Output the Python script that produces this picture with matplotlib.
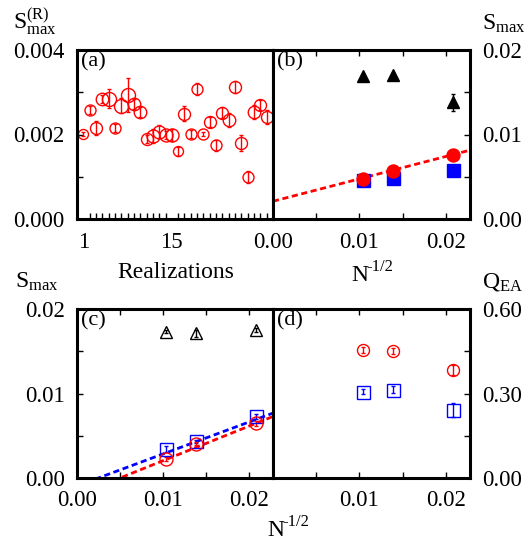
import numpy as np
import matplotlib
matplotlib.use("Agg")
import matplotlib.pyplot as plt
from matplotlib.ticker import FixedLocator, FixedFormatter

plt.rcParams['font.family'] = ['Liberation Serif', 'DejaVu Serif']
plt.rcParams['mathtext.fontset'] = 'custom'
plt.rcParams['mathtext.rm'] = 'Liberation Serif'
plt.rcParams['mathtext.it'] = 'Liberation Serif:italic'
plt.rcParams['font.size'] = 16

# ---------------- data ----------------
realizations = list(range(1, 31))
s_real = [0.00201, 0.00258, 0.00215, 0.00284, 0.00285, 0.00215, 0.00268, 0.00293,
          0.00272, 0.00253, 0.00189, 0.00196, 0.00207, 0.00199, 0.00199, 0.00160,
          0.00249, 0.00201, 0.00307, 0.00201, 0.00230, 0.00174, 0.00252, 0.00234,
          0.00313, 0.00179, 0.00100, 0.00254, 0.00270, 0.00241]
s_real_err = [0.00005, 0.00010, 0.00016, 0.00010, 0.00022, 0.00010, 0.00018, 0.00040,
              0.00012, 0.00012, 0.00010, 0.00017, 0.00015, 0.00010, 0.00015, 0.00010,
              0.00018, 0.00010, 0.00014, 0.00005, 0.00012, 0.00012, 0.00012, 0.00017,
              0.00014, 0.00019, 0.00014, 0.00017, 0.00012, 0.00017]
s_real_size = [10, 11, 12, 12.5, 14, 11, 14, 14, 12.5, 12.5, 12, 13, 13, 13, 13, 10,
               12, 11, 11, 11, 12, 11, 12, 12.5, 12, 12, 11, 12.5, 12, 12]

n_inv = [0.0104, 0.0139, 0.0208]

tri_b = [0.0169, 0.0171, 0.0138]
tri_b_err = [0.0002, 0.0002, 0.0010]
circ_b = [0.00474, 0.00565, 0.00763]
sq_b = [0.00466, 0.00486, 0.00577]
fit_b = (0.0021, 0.265)          # intercept, slope

tri_c = [0.01732, 0.01713, 0.01752]
tri_c_err = [0.0002, 0.0004, 0.0002]
sq_c = [0.00343, 0.00433, 0.00728]
sq_c_err = [0.0003, 0.0002, 0.0003]
circ_c = [0.00224, 0.00406, 0.00650]
circ_c_err = [0.0002, 0.0002, 0.0003]
fit_c_blue = (0.00248, 0.378)    # x-intercept, slope
fit_c_red = (0.0050, 0.409)

circ_d = [0.455, 0.451, 0.384]
circ_d_err = [0.010, 0.010, 0.018]
sq_d = [0.307, 0.313, 0.242]
sq_d_err = [0.008, 0.012, 0.025]

# ---------------- figure ----------------
W, H = 529, 546
fig = plt.figure(figsize=(W / 100, H / 100), dpi=100)

def box(x0, y0, x1, y1):
    return [x0 / W, 1 - y1 / H, (x1 - x0) / W, (y1 - y0) / H]

ax_a = fig.add_axes(box(77, 50, 273, 219))
ax_b = fig.add_axes(box(273, 50, 470, 219))
ax_c = fig.add_axes(box(77, 309, 273, 478))
ax_d = fig.add_axes(box(273, 309, 470, 478))

RED = '#ff0000'
BLUE = '#0000ff'
PX = 0.72  # points per pixel
DASH = (0, (2.2, 1.3))

for ax in (ax_a, ax_b, ax_c, ax_d):
    for sp in ax.spines.values():
        sp.set_linewidth(2.2)
    ax.tick_params(which='both', direction='in', length=4, width=1, pad=9,
                   labelsize=16.5)

# ---- (a) ----
for x, y, e, s in zip(realizations, s_real, s_real_err, s_real_size):
    ax_a.errorbar([x], [y], yerr=[e], fmt='o', mfc='none', mec=RED, ms=s * PX,
                  mew=1.0, ecolor=RED, elinewidth=1.0, capsize=1.5, capthick=1.0)
ax_a.set_xlim(0, 31)
ax_a.set_ylim(0, 0.004)
ax_a.xaxis.set_major_locator(FixedLocator([1, 15]))
ax_a.xaxis.set_major_formatter(FixedFormatter(['1', '15']))
ax_a.xaxis.set_minor_locator(FixedLocator(realizations))
ax_a.yaxis.set_major_locator(FixedLocator([0, 0.002, 0.004]))
ax_a.yaxis.set_major_formatter(FixedFormatter(['0.000', '0.002', '0.004']))
ax_a.yaxis.set_minor_locator(FixedLocator([0.001, 0.003]))
ax_a.tick_params(which='both', top=False, right=False)
ax_a.tick_params(axis='x', which='major', length=0)
ax_a.text(0.02, 0.985, '(a)', transform=ax_a.transAxes, ha='left', va='top')

xlim_n = (0, 0.0228)
xs_line = np.array(xlim_n)

def n_xaxis(ax, labels):
    ax.set_xlim(*xlim_n)
    ax.xaxis.set_major_locator(FixedLocator([0, 0.01, 0.02]))
    ax.xaxis.set_major_formatter(FixedFormatter(labels))
    ax.xaxis.set_minor_locator(FixedLocator([0.005, 0.015]))
    ax.tick_params(axis='x', which='both', top=True, bottom=True)

# ---- (b) ----
ax_b.errorbar(n_inv, tri_b, yerr=tri_b_err, fmt='^', color='k', ms=12 * PX,
              elinewidth=1.0, capsize=1.5, zorder=3)
ax_b.plot(n_inv, sq_b, 's', color=BLUE, ms=13 * PX, zorder=3)
ax_b.plot(xs_line, fit_b[0] + fit_b[1] * xs_line, color=RED, lw=2.0, ls=DASH,
          zorder=2)
ax_b.plot(n_inv, circ_b, 'o', color=RED, ms=13 * PX, zorder=4)
n_xaxis(ax_b, ['0.00', '0.01', '0.02'])
ax_b.set_ylim(0, 0.02)
ax_b.yaxis.tick_right()
ax_b.yaxis.set_major_locator(FixedLocator([0, 0.01, 0.02]))
ax_b.yaxis.set_major_formatter(FixedFormatter(['0.00', '0.01', '0.02']))
ax_b.yaxis.set_minor_locator(FixedLocator([0.005, 0.015]))
ax_b.tick_params(axis='y', which='both', left=False, right=True,
                 labelleft=False, labelright=True)
ax_b.text(0.02, 0.985, '(b)', transform=ax_b.transAxes, ha='left', va='top')

# ---- (c) ----
ax_c.errorbar(n_inv, tri_c, yerr=tri_c_err, fmt='^', mfc='none', mec='k',
              ms=12 * PX, mew=1.0, ecolor='k', elinewidth=1.0, capsize=1.5)
ax_c.plot(xs_line, fit_c_blue[1] * (xs_line - fit_c_blue[0]), color=BLUE,
          lw=2.0, ls=DASH)
ax_c.plot(xs_line, fit_c_red[1] * (xs_line - fit_c_red[0]), color=RED,
          lw=2.0, ls=DASH)
ax_c.errorbar(n_inv, sq_c, yerr=sq_c_err, fmt='s', mfc='none', mec=BLUE,
              ms=13 * PX, mew=1.0, ecolor=BLUE, elinewidth=1.0, capsize=1.5)
ax_c.errorbar(n_inv, circ_c, yerr=circ_c_err, fmt='o', mfc='none', mec=RED,
              ms=13 * PX, mew=1.0, ecolor=RED, elinewidth=1.0, capsize=1.5)
n_xaxis(ax_c, ['0.00', '0.01', '0.02'])
ax_c.set_ylim(0, 0.02)
ax_c.yaxis.set_major_locator(FixedLocator([0, 0.01, 0.02]))
ax_c.yaxis.set_major_formatter(FixedFormatter(['0.00', '0.01', '0.02']))
ax_c.yaxis.set_minor_locator(FixedLocator([0.005, 0.015]))
ax_c.tick_params(axis='y', which='both', left=True, right=False)
ax_c.text(0.02, 0.985, '(c)', transform=ax_c.transAxes, ha='left', va='top')

# ---- (d) ----
ax_d.errorbar(n_inv, circ_d, yerr=circ_d_err, fmt='o', mfc='none', mec=RED,
              ms=12 * PX, mew=1.0, ecolor=RED, elinewidth=1.0, capsize=1.5)
ax_d.errorbar(n_inv, sq_d, yerr=sq_d_err, fmt='s', mfc='none', mec=BLUE,
              ms=13 * PX, mew=1.0, ecolor=BLUE, elinewidth=1.0, capsize=1.5)
n_xaxis(ax_d, ['', '0.01', '0.02'])
ax_d.set_ylim(0, 0.6)
ax_d.yaxis.tick_right()
ax_d.yaxis.set_major_locator(FixedLocator([0, 0.3, 0.6]))
ax_d.yaxis.set_major_formatter(FixedFormatter(['0.00', '0.30', '0.60']))
ax_d.yaxis.set_minor_locator(FixedLocator([0.15, 0.45]))
ax_d.tick_params(axis='y', which='both', left=False, right=True,
                 labelleft=False, labelright=True)
ax_d.text(0.02, 0.985, '(d)', transform=ax_d.transAxes, ha='left', va='top')

# ---- axis titles ----
def ftext(x, y, s, **kw):
    fig.text(x / W, 1 - y / H, s, ha='center', va='center', fontsize=17, **kw)

def ninv_label(x_left, y_base):
    fig.text(x_left / W, 1 - y_base / H, 'N', ha='left', va='baseline',
             fontsize=17)
    fig.text((x_left + 15) / W, 1 - (y_base - 10) / H, '-1/2', ha='left',
             va='baseline', fontsize=12)

ftext(35, 22, r'$\mathrm{S}_{\mathrm{max}}^{\mathrm{(R)}}$')
ftext(504, 24, r'$\mathrm{S}_{\mathrm{max}}$')
ftext(37, 282, r'$\mathrm{S}_{\mathrm{max}}$')
ftext(503, 282, r'$\mathrm{Q}_{\mathrm{EA}}$')
ftext(176, 272, 'Realizations')
ninv_label(351, 281)
ninv_label(267, 536)

fig.savefig('out.png', dpi=100)
